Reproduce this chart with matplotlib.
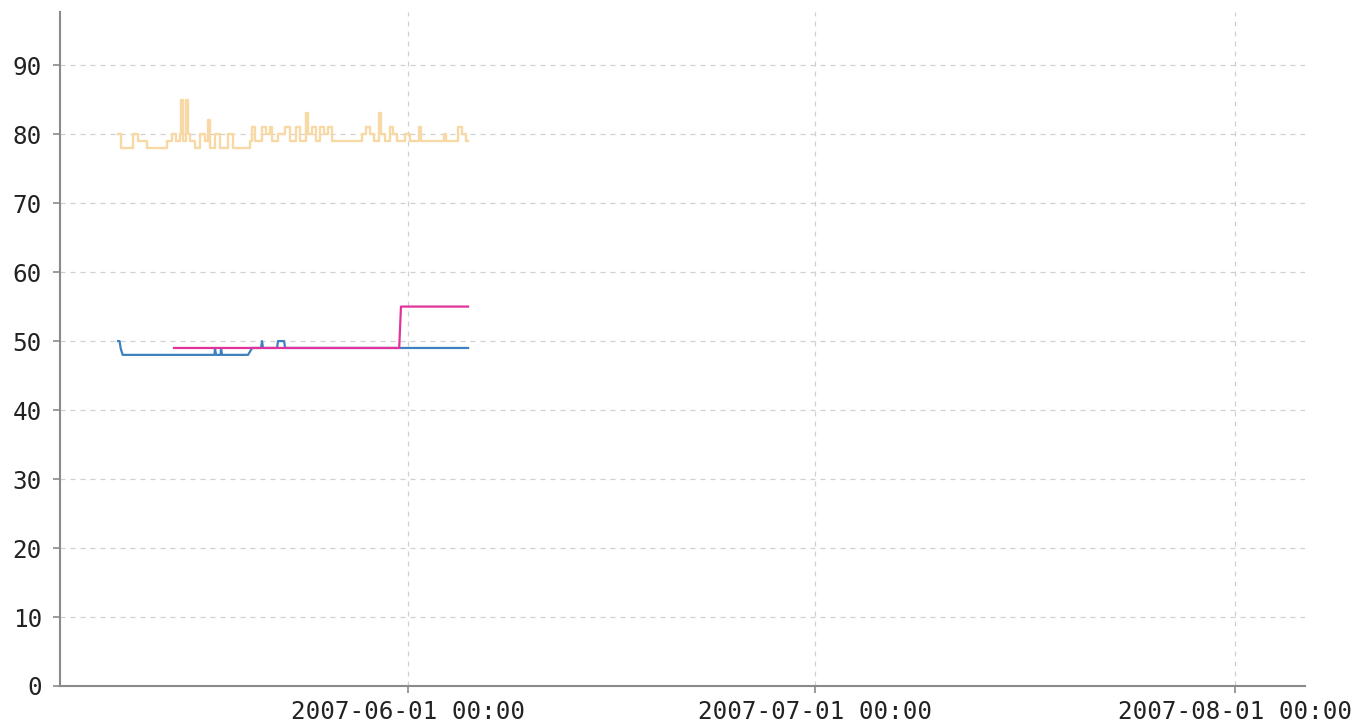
import numpy as np
import pandas as pd
import matplotlib
matplotlib.use("Agg")
import matplotlib.pyplot as plt
import matplotlib.dates as mdates

# times are days since 2007-05-10 00:00
base = pd.Timestamp("2007-05-10 00:00")

orange_days = [0.61, 0.83, 1.71, 2.08, 2.75, 4.22, 4.59, 4.89, 5.18, 5.26, 5.40, 5.62,
               5.77, 5.92, 6.29, 6.66, 7.03, 7.25, 7.40, 7.76, 8.13, 8.72, 9.09, 10.35,
               10.49, 10.71, 11.23, 11.52, 11.82, 11.97, 12.41, 12.93, 13.29, 13.74, 14.03,
               14.48, 14.62, 14.92, 15.21, 15.51, 15.80, 16.10, 16.39, 18.61, 18.90, 19.20,
               19.49, 19.86, 20.01, 20.30, 20.67, 20.89, 21.19, 21.78, 22.15, 22.81, 22.96,
               24.65, 24.80, 25.69, 25.98, 26.28, 26.43]
orange_vals = [80, 78, 80, 79, 78, 79, 80, 79, 80, 85, 79, 85,
               80, 79, 78, 80, 79, 82, 78, 80, 78, 80, 78, 79,
               81, 79, 81, 80, 81, 79, 80, 81, 79, 81, 79,
               83, 80, 81, 79, 81, 80, 81, 79, 80, 81, 80,
               79, 83, 80, 79, 81, 80, 79, 80, 79, 81, 79,
               80, 79, 81, 80, 79, 79]

blue_days = [0.61, 0.72, 0.80, 0.95, 7.72, 7.76, 7.84, 8.17, 8.21, 8.28, 10.20, 10.50,
             11.16, 11.23, 11.30, 12.34, 12.41, 12.86, 12.93, 26.43]
blue_vals = [50, 50, 49, 48, 48, 49, 48, 48, 49, 48, 48, 49,
             49, 50, 49, 49, 50, 50, 49, 49]

pink_days = [4.74, 21.35, 21.48, 26.43]
pink_vals = [49, 49, 55, 55]

tick_dates = ["2007-06-01", "2007-07-01", "2007-08-01"]


def to_time(days):
    return base + pd.to_timedelta(days, unit="D")


fig = plt.figure(figsize=(13.68, 7.28), dpi=100)
ax = fig.add_axes([0.0439, 0.0577, 0.9101, 0.9258])

ax.plot(to_time(orange_days), orange_vals, drawstyle="steps-post",
        color="#f8d9a6", lw=1.7)
ax.plot(to_time(blue_days), blue_vals, color="#3f80c0", lw=1.6)
ax.plot(to_time(pink_days), pink_vals, color="#e2339c", lw=1.6)

ax.set_xlim(pd.Timestamp("2007-05-06 08:00"), pd.Timestamp("2007-08-06 04:00"))
ax.set_ylim(0, 97.7)
ax.set_yticks(np.arange(0, 91, 10))
ax.set_xticks(pd.to_datetime(tick_dates))
ax.xaxis.set_major_formatter(mdates.DateFormatter("%Y-%m-%d %H:%M"))

ax.grid(True, color="#d0d0d0", linestyle=(0, (4, 4)), lw=0.9)
ax.set_axisbelow(True)
for s in ["top", "right"]:
    ax.spines[s].set_visible(False)
for s in ["left", "bottom"]:
    ax.spines[s].set_color("#8a8a8a")
    ax.spines[s].set_linewidth(1.5)

ax.tick_params(axis="both", colors="#8a8a8a", length=5, width=1.2,
               labelcolor="#222222", labelsize=17.5)
ax.tick_params(axis="y", pad=8)
ax.tick_params(axis="x", pad=5)
for lab in ax.get_xticklabels() + ax.get_yticklabels():
    lab.set_family("DejaVu Sans Mono")

plt.savefig("out.png", dpi=100)
